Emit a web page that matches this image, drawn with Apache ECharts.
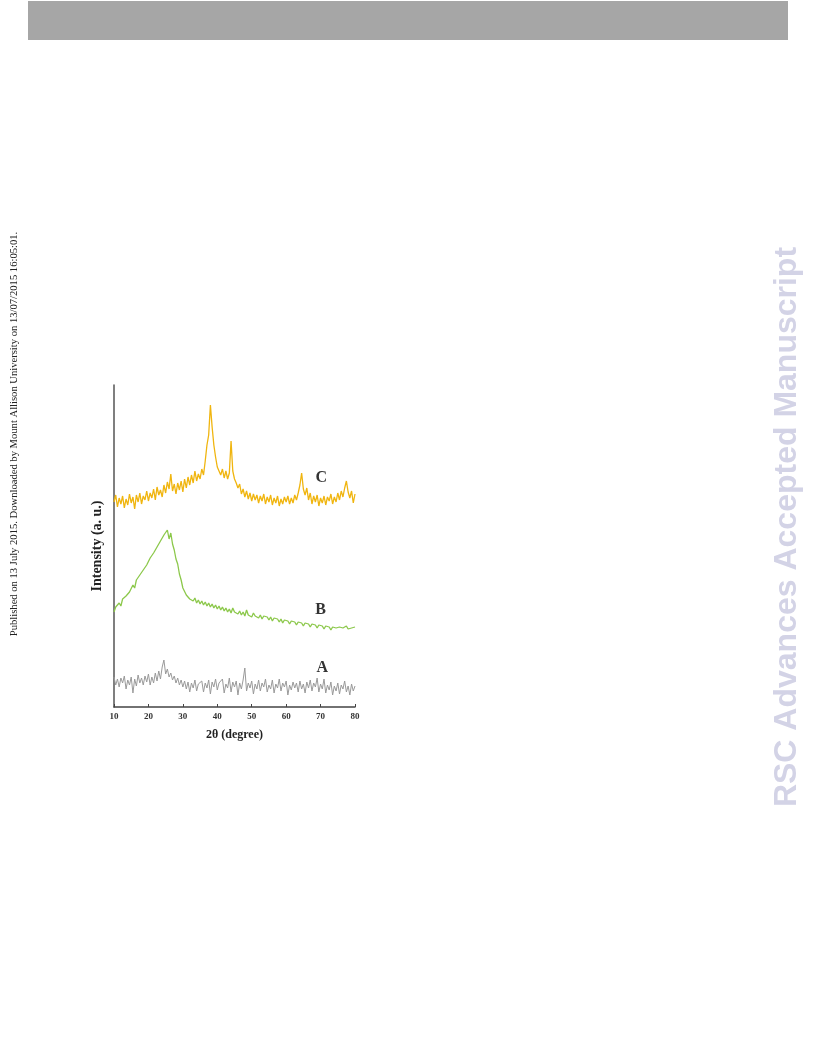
<!DOCTYPE html>
<html><head><meta charset="utf-8">
<script src="https://cdn.jsdelivr.net/npm/echarts@6/dist/echarts.min.js"></script>
<style>html,body{margin:0;padding:0;background:#fff}#c{width:816px;height:1056px}</style>
</head><body><div id="c"></div>
<script>
// 2θ from 10 to 80, step 0.5
const twoTheta = [];
for (let i = 0; i <= 140; i++) twoTheta.push(10 + i * 0.5);

const seriesA = [
30,22,28,20,29,24,31,18,27,22,
30,14,28,21,32,24,29,22,31,25,
33,22,30,24,34,26,36,28,40,47,
33,38,30,34,27,31,24,29,22,27,
20,26,18,25,15,24,19,27,16,23,
21,26,15,24,19,27,13,25,20,28,
17,24,22,28,14,23,19,29,15,25,
20,26,12,24,18,27,39,16,24,19,
26,13,23,18,27,16,24,20,28,15,
22,18,27,14,23,19,28,16,24,20,
26,12,22,17,25,19,24,15,26,18,
23,14,25,19,27,16,24,20,29,15,
23,18,28,14,22,17,25,12,21,16,
24,13,22,18,26,15,21,12,23,16,
21
];
const seriesB = [
95,100,98,104,101,108,106,111,109,115,
116,122,119,127,125,132,130,137,136,142,
143,149,147,154,152,160,158,166,165,172,
170,177,168,174,163,157,148,143,133,127,
119,117,112,113,108,110,106,109,104,107,
103,106,102,105,101,104,100,103,99,102,
98,101,97,100,96,99,95,98,94,99,
95,97,93,96,92,95,91,97,92,93,
90,94,91,93,89,92,88,91,89,90,
87,90,86,89,87,88,85,88,84,87,
85,86,83,86,84,85,82,85,83,84,
81,84,82,83,80,83,81,82,79,82,
80,81,78,81,79,80,77,80,78,79,
77,80,78,79,77,81,78,80,79,81,
80
];
const seriesC = [
205,212,200,209,203,211,199,208,202,213,
204,210,198,212,205,214,203,211,207,216,
206,214,209,218,207,220,212,217,210,222,
214,225,218,233,216,223,213,224,217,226,
215,228,219,230,222,232,224,236,226,233,
228,238,232,246,262,272,302,280,262,250,
240,236,232,238,229,236,228,234,266,236,
228,224,219,223,213,218,210,216,208,214,
206,213,207,212,204,211,206,213,203,210,
205,212,202,209,204,211,201,208,203,210,
205,211,203,209,204,212,207,214,222,234,
218,212,219,207,214,203,211,205,212,201,
209,204,211,202,210,206,213,203,210,205,
214,207,216,210,219,226,215,209,216,204,
213
];
const xTicks = [10,20,30,40,50,60,70,80];
const curveLabels = [
  {name:'C', x:70.2, y:229},
  {name:'B', x:70.0, y:97},
  {name:'A', x:70.5, y:39}
];

const zip = arr => arr.map((v,i)=>[twoTheta[i], v]);
const chart = echarts.init(document.getElementById('c'), null, {renderer:'canvas'});
const serif = '"Liberation Serif","DejaVu Serif",serif';
chart.setOption({
  animation:false,
  backgroundColor:'#fff',
  grid:{left:114, top:385, width:241, height:322},
  xAxis:{type:'value', min:10, max:80, interval:10,
    name:'2θ (degree)', nameLocation:'middle', nameGap:22,
    nameTextStyle:{fontFamily:serif, fontWeight:'bold', fontSize:12, color:'#222'},
    axisLine:{lineStyle:{color:'#444', width:1.5}},
    axisTick:{show:true, inside:true, length:3, lineStyle:{color:'#444'}},
    axisLabel:{fontFamily:serif, fontWeight:'bold', fontSize:9, color:'#333', margin:5,
      formatter: v => xTicks.indexOf(v) >= 0 ? String(v) : ''},
    splitLine:{show:false}},
  yAxis:{type:'value', min:0, max:322,
    name:'Intensity (a. u.)', nameLocation:'middle', nameGap:10,
    nameTextStyle:{fontFamily:serif, fontWeight:'bold', fontSize:14, color:'#222'},
    axisLine:{show:true, lineStyle:{color:'#555', width:1.5}},
    axisTick:{show:false}, axisLabel:{show:false}, splitLine:{show:false}},
  series:[
    {type:'line', data:zip(seriesA), showSymbol:false, lineStyle:{color:'#9a9a9a', width:1}},
    {type:'line', data:zip(seriesB), showSymbol:false, lineStyle:{color:'#8cc84b', width:1.3}},
    {type:'line', data:zip(seriesC), showSymbol:false, lineStyle:{color:'#f0b50f', width:1.3}},
    {type:'scatter', data:curveLabels.map(d=>({name:d.name, value:[d.x,d.y]})), symbolSize:0,
      label:{show:true, position:'inside', formatter:p=>p.name, fontFamily:serif, fontWeight:'bold', fontSize:16, color:'#000'}}
  ],
  graphic:[
    {type:'rect', shape:{x:28, y:1, width:760, height:39}, style:{fill:'#a6a6a6'}},
    {type:'text', x:14, y:434, rotation:Math.PI/2,
      style:{text:'Published on 13 July 2015. Downloaded by Mount Allison University on 13/07/2015 16:05:01.',
        font:'10.6px "Liberation Serif", serif', fill:'#222', textAlign:'center', textVerticalAlign:'middle'}},
    {type:'text', x:787, y:527, rotation:Math.PI/2,
      style:{text:'RSC Advances Accepted Manuscript',
        font:'bold 32px "Liberation Sans", Arial, sans-serif', fill:'#d3d3e6', textAlign:'center', textVerticalAlign:'middle'}}
  ]
});
</script></body></html>
